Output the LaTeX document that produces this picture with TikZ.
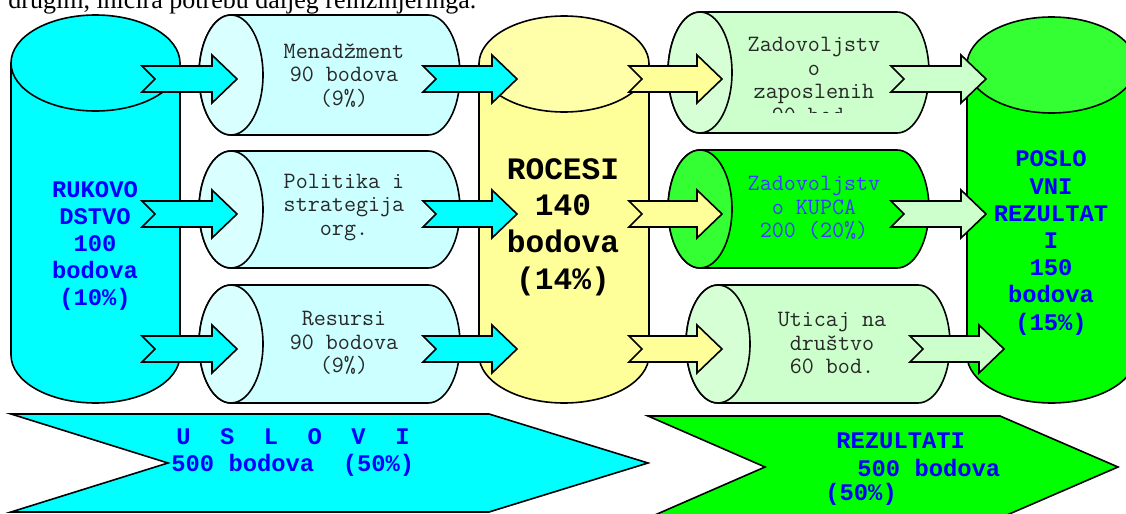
\documentclass[tikz,border=0pt]{standalone}
\usepackage{fontspec}
\setmainfont{Liberation Serif}
\newfontfamily\cour{Liberation Mono}
\newfontfamily\courreg{Latin Modern Mono}
\definecolor{cyanA}{RGB}{0,255,255}
\definecolor{cyanL}{RGB}{204,255,255}
\definecolor{cyanLL}{RGB}{217,255,255}
\definecolor{yel}{RGB}{255,255,153}
\definecolor{yelT}{RGB}{255,255,170}
\definecolor{grnL}{RGB}{204,255,204}
\definecolor{grnLL}{RGB}{214,255,214}
\definecolor{grn}{RGB}{0,255,0}
\definecolor{grnT}{RGB}{51,255,51}
\definecolor{txtblue}{RGB}{0,0,255}
\definecolor{txtblueB}{RGB}{60,60,255}
\definecolor{txtgray}{RGB}{40,40,40}
\tikzset{
  outline/.style={draw=black,line width=0.8pt,line join=miter},
  rowtext/.style={font=\courreg\fontsize{11.7}{11.75}\selectfont,text=txtgray,align=center,inner sep=0pt},
  bigblue/.style={font=\cour\bfseries\fontsize{11.9}{13.6}\selectfont,text=txtblue,align=center,inner sep=0pt},
  yeltext/.style={font=\cour\bfseries\fontsize{15.6}{18.35}\selectfont,text=black,align=center,inner sep=0pt},
  bandtext/.style={font=\cour\bfseries\fontsize{11.9}{13.6}\selectfont,text=txtblue,inner sep=0pt,anchor=west},
  toptext/.style={font=\fontsize{13}{15}\selectfont,text=black,inner sep=0pt,anchor=base west}
}
% block arrow: fill, tail x, tip x, centre y
\newcommand{\blockarrow}[4]{%
  \filldraw[fill=#1,outline] (#2,#4-13) -- (#3-25,#4-13) -- (#3-25,#4-24) -- (#3,#4)
    -- (#3-25,#4+24) -- (#3-25,#4+13) -- (#2,#4+13) -- (#2+13,#4) -- cycle;}
% horizontal cylinder: body fill, cap fill, left centre x, right centre x, top y, bottom y
\newcommand{\hcyl}[6]{%
  \pgfmathsetmacro{\cylry}{(#6-#5)/2}\pgfmathsetmacro{\cylyc}{(#5+#6)/2}%
  \filldraw[fill=#1,outline] (#3,#5) -- (#4,#5)
    arc[start angle=-90,end angle=90,x radius=32,y radius=\cylry] -- (#3,#6)
    arc[start angle=90,end angle=270,x radius=32,y radius=\cylry] -- cycle;
  \filldraw[fill=#2,outline] (#3,\cylyc) ellipse[x radius=32,y radius=\cylry];}
% vertical cylinder: body fill, top fill, centre x, rx, top centre y, bottom centre y
\newcommand{\vcyl}[6]{%
  \filldraw[fill=#1,outline] (#3-#4,#5) -- (#3-#4,#6)
    arc[start angle=180,end angle=0,x radius=#4,y radius=48] -- (#3+#4,#5) -- cycle;
  \filldraw[fill=#2,outline] (#3,#5) ellipse[x radius=#4,y radius=48];}
\begin{document}
\begin{tikzpicture}[x=0.5pt,y=-0.5pt]
\useasboundingbox (0,0) rectangle (1126,514);
\clip (0,0) rectangle (1126,514);
\fill[white] (0,0) rectangle (1126,514);

% top (cut) text line
\node[toptext] (topline) at (8,9) {drugim, inicira potrebu daljeg reinžinjeringa.};

% big cylinders
\vcyl{cyanA}{cyanA}{95.5}{84.5}{63}{355}
\vcyl{yel}{yelT}{564}{85}{64}{355}
\vcyl{grn}{grnT}{1051.5}{84.5}{65}{355}

% row cylinders, left column
\hcyl{cyanL}{cyanLL}{231}{428}{15}{135}
\hcyl{cyanL}{cyanLL}{231}{428}{151}{268}
\hcyl{cyanL}{cyanLL}{231}{428}{285}{403}
% row cylinders, right column
\hcyl{grnL}{grnLL}{700}{897}{12}{133}
\hcyl{grn}{grnT}{700}{897}{150}{268}
\hcyl{grnL}{grnLL}{718}{918}{285}{403}

% texts in cylinders
\node[bigblue] (ruk) at (95,246) {RUKOVO\\DSTVO\\100\\bodova\\(10\%)};
\node[yeltext] (proc) at (563,227) {ROCESI\\140\\bodova\\(14\%)};
\node[bigblue] (posl) at (1051,243) {POSLO\\VNI\\REZULTAT\\I\\150\\bodova\\(15\%)};

\node[rowtext] (men) at (344,75.5) {Menadžment\\90 bodova\\(9\%)};
\node[rowtext] (pol) at (344,207.5) {Politika i\\strategija\\org.};
\node[rowtext] (res) at (344,343) {Resursi\\90 bodova\\(9\%)};

\begin{scope}
\clip (735,20) rectangle (895,112);
\node[rowtext] (zap) at (814,80) {Zadovoljstv\\o\\zaposlenih\\90 bod.};
\end{scope}
\node[rowtext,text=txtblueB] (kup) at (814,208) {Zadovoljstv\\o KUPCA\\200 (20\%)};
\node[rowtext] (uti) at (832,343) {Uticaj na\\društvo\\60 bod.};

% arrows
\blockarrow{cyanA}{142}{237}{79}
\blockarrow{cyanA}{142}{237}{214}
\blockarrow{cyanA}{142}{237}{349}
\blockarrow{cyanA}{423}{517}{79}
\blockarrow{cyanA}{423}{517}{214}
\blockarrow{cyanA}{423}{517}{349}
\blockarrow{yel}{629}{722}{79}
\blockarrow{yel}{629}{722}{214}
\blockarrow{yel}{629}{722}{349}
\blockarrow{grnL}{891}{986}{79}
\blockarrow{grnL}{891}{986}{214}
\blockarrow{grnL}{910}{1004}{349}

% bottom chevrons
\filldraw[fill=cyanA,outline] (11,414) -- (489,414) -- (648,463) -- (489,512) -- (11,512) -- (168,463) -- cycle;
\filldraw[fill=grn,outline] (648,416) -- (1000,416) -- (1118,467) -- (1000,518) -- (648,518) -- (765,467) -- cycle;

\node[bandtext] (usl) at (176,437) {U\hspace{14.75pt}S\hspace{14.75pt}L\hspace{14.75pt}O\hspace{14.75pt}V\hspace{14.75pt}I};
\node[bandtext] (usl2) at (171,465) {500 bodova\ \ (50\%)};
\node[bandtext] (rez1) at (836,441) {REZULTATI};
\node[bandtext] (rez2) at (857,468) {500 bodova};
\node[bandtext] (rez3) at (825,494) {(50\%)};
\end{tikzpicture}
\end{document}
